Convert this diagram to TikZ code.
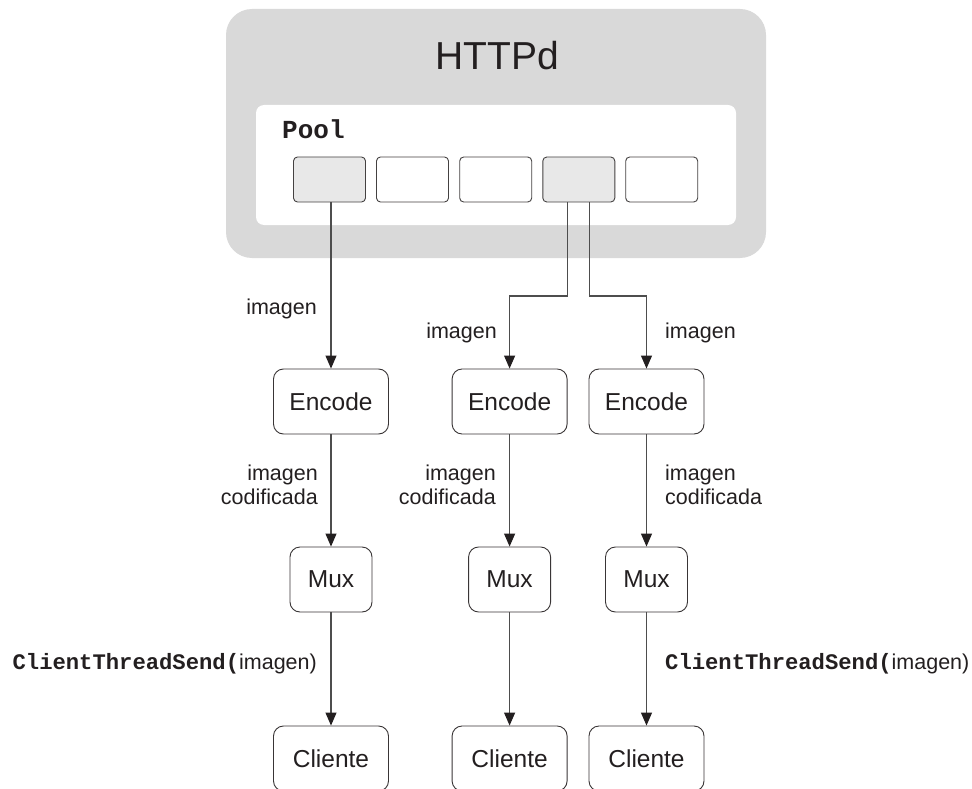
\documentclass[tikz,border=0pt]{standalone}
\usepackage{fontspec}
\setmainfont{Liberation Sans}
\newfontfamily\codefont{Liberation Mono}
\usetikzlibrary{arrows.meta}

\definecolor{ink}{HTML}{231F20}
\definecolor{wire}{HTML}{4D4D4D}
\definecolor{shell}{HTML}{D9D9D9}
\definecolor{busy}{HTML}{E8E8E8}

\tikzset{
  every node/.style={text=ink},
  slot/.style={draw=ink!85, line width=0.9pt, rounded corners=4pt,
    minimum width=72pt, minimum height=45pt, inner sep=0pt},
  stagebox/.style={draw=ink!90, line width=0.9pt, rounded corners=10pt,
    minimum width=115pt, minimum height=65pt, inner sep=0pt,
    font=\fontsize{24.5}{28}\selectfont},
  muxbox/.style={stagebox, minimum width=82pt},
  lbl/.style={inner sep=0pt, font=\fontsize{21.5}{23.5}\selectfont},
  arr/.style={draw=wire, line width=1.1pt,
    -{Triangle[length=13pt,width=11pt,color=ink,fill=ink]}},
}

\newcommand{\codetxt}[1]{{\codefont\bfseries #1}}
\newcommand{\callcode}[1]{{\codefont\bfseries\fontsize{22.2}{24}\selectfont #1}}

\begin{document}
\begin{tikzpicture}[x=1pt,y=-1pt]
  \clip (0,0) rectangle (972,789);
  \fill[white] (0,0) rectangle (972,789);

  % server shell and thread pool area
  \fill[shell, rounded corners=26pt] (226,9) rectangle (766,258);
  \fill[white, rounded corners=8pt] (256,105) rectangle (736,225);
  \node[anchor=base, inner sep=0pt, font=\fontsize{39}{44}\selectfont]
    (httpd) at (497,70) {HTTPd};
  \node[anchor=base west, inner sep=0pt, font=\fontsize{26}{30}\selectfont]
    (pool) at (282,139) {\codetxt{Pool}};

  % pool slots
  \node[slot, fill=busy] (p1) at (329.5,179.5) {};
  \node[slot]            (p2) at (412.5,179.5) {};
  \node[slot]            (p3) at (495.7,179.5) {};
  \node[slot, fill=busy] (p4) at (578.8,179.5) {};
  \node[slot]            (p5) at (661.7,179.5) {};

  % processing chains
  \node[stagebox] (e1) at (331,401.5) {Encode};
  \node[stagebox] (e2) at (509.6,401.5) {Encode};
  \node[stagebox] (e3) at (646.5,401.5) {Encode};

  \node[muxbox] (m1) at (331,579.5) {Mux};
  \node[muxbox] (m2) at (509.6,579.5) {Mux};
  \node[muxbox] (m3) at (646.5,579.5) {Mux};

  \node[stagebox] (c1) at (331,758.5) {Cliente};
  \node[stagebox] (c2) at (509.6,758.5) {Cliente};
  \node[stagebox] (c3) at (646.5,758.5) {Cliente};

  % split point of the shared slot
  \coordinate (split) at (0,296);

  % connectors
  \draw[arr] (p1.south -| e1.north) -- (e1.north);
  \draw[arr] ([xshift=-11pt]p4.south) |- (e2.north |- split) -- (e2.north);
  \draw[arr] ([xshift=11pt]p4.south) |- (e3.north |- split) -- (e3.north);

  \draw[arr] (e1) -- (m1);
  \draw[arr] (e2) -- (m2);
  \draw[arr] (e3) -- (m3);

  \draw[arr] (m1) -- (c1);
  \draw[arr] (m2) -- (c2);
  \draw[arr] (m3) -- (c3);

  % labels
  \node[lbl, anchor=base east] (l1) at (317,314) {imagen};
  \node[lbl, anchor=base east] (l2) at (497,338) {imagen};
  \node[lbl, anchor=base west] (l3) at (665,338) {imagen};

  % two-line labels: base anchor sits on the last line
  \node[lbl, anchor=base east, align=right] (k1) at (318,504) {imagen\\codificada};
  \node[lbl, anchor=base east, align=right] (k2) at (496,504) {imagen\\codificada};
  \node[lbl, anchor=base west, align=left]  (k3) at (665,504) {imagen\\codificada};

  \node[lbl, anchor=base east] (s1) at (317,669)
    {\callcode{ClientThreadSend(}imagen)};
  \node[lbl, anchor=base west] (s3) at (665,669)
    {\callcode{ClientThreadSend(}imagen)};
\end{tikzpicture}
\end{document}
